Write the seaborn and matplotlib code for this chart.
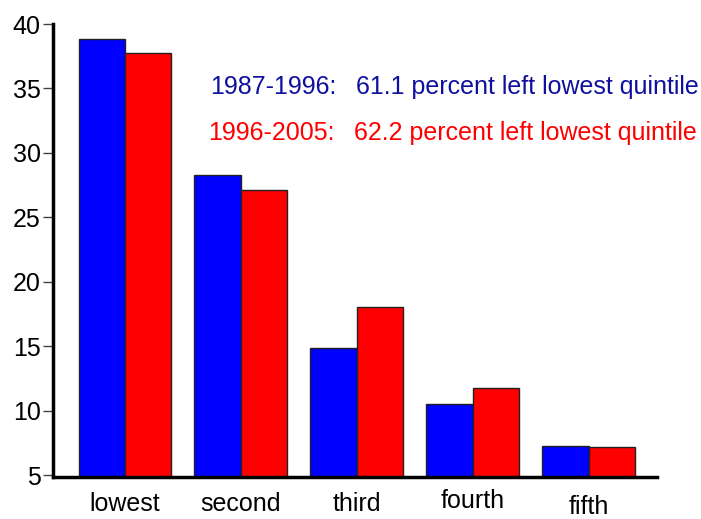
import numpy as np
import pandas as pd
import matplotlib
matplotlib.use("Agg")
import matplotlib.pyplot as plt
import matplotlib.transforms as mtransforms
import seaborn as sns

# data
quintiles = ["lowest", "second", "third", "fourth", "fifth"]
periods = ["1987-1996", "1996-2005"]
share_8796 = [38.85, 28.3, 14.85, 10.55, 7.27]
share_9605 = [37.75, 27.1, 18.05, 11.72, 7.17]
yticks = [5, 10, 15, 20, 25, 30, 35, 40]

df = pd.DataFrame({
    "quintile": quintiles * 2,
    "period": [periods[0]] * 5 + [periods[1]] * 5,
    "share": share_8796 + share_9605,
})

sns.set_style("white")
plt.rcParams["font.family"] = ["Liberation Sans", "DejaVu Sans"]

W, H = 701, 519
fig = plt.figure(figsize=(W / 100, H / 100), dpi=100)
# axes box in pixels: left 53, right 657, top 24, bottom 477
ax = fig.add_axes([53 / W, (H - 477) / H, (657 - 53) / W, (477 - 24) / H])

sns.barplot(data=df, x="quintile", y="share", hue="period",
            palette=["#0000ff", "#ff0000"], saturation=1, width=0.8,
            edgecolor="#222222", linewidth=1.0, legend=False, ax=ax)

ax.set_ylim(4.85, 40)
ax.set_xlim(-0.62, 4.59)
ax.set_yticks(yticks)
ax.set_xlabel("")
ax.set_ylabel("")

for s in ["top", "right"]:
    ax.spines[s].set_visible(False)
for s in ["left", "bottom"]:
    ax.spines[s].set_linewidth(2.5)
    ax.spines[s].set_color("black")

ax.tick_params(axis="y", direction="out", length=7, width=1, color="#444444",
               labelsize=18, labelcolor="black", pad=2, left=True)
ax.tick_params(axis="x", length=0, labelsize=18, labelcolor="black", pad=11)

# small vertical shifts of the category labels, as in the original
shifts = [0, 0, 0, 3, -3]
for lab, dy in zip(ax.get_xticklabels(), shifts):
    off = mtransforms.ScaledTranslation(0, dy / 100, fig.dpi_scale_trans)
    lab.set_transform(lab.get_transform() + off)

fig.text(210 / W, 1 - 94 / H, "1987-1996:", color="#1010a0", fontsize=18,
         va="baseline")
fig.text(356 / W, 1 - 94 / H, "61.1 percent left lowest quintile",
         color="#1010a0", fontsize=18, va="baseline")
fig.text(208 / W, 1 - 140 / H, "1996-2005:", color="#ff0000", fontsize=18,
         va="baseline")
fig.text(354 / W, 1 - 140 / H, "62.2 percent left lowest quintile",
         color="#ff0000", fontsize=18, va="baseline")

fig.savefig("out.png", dpi=100)
